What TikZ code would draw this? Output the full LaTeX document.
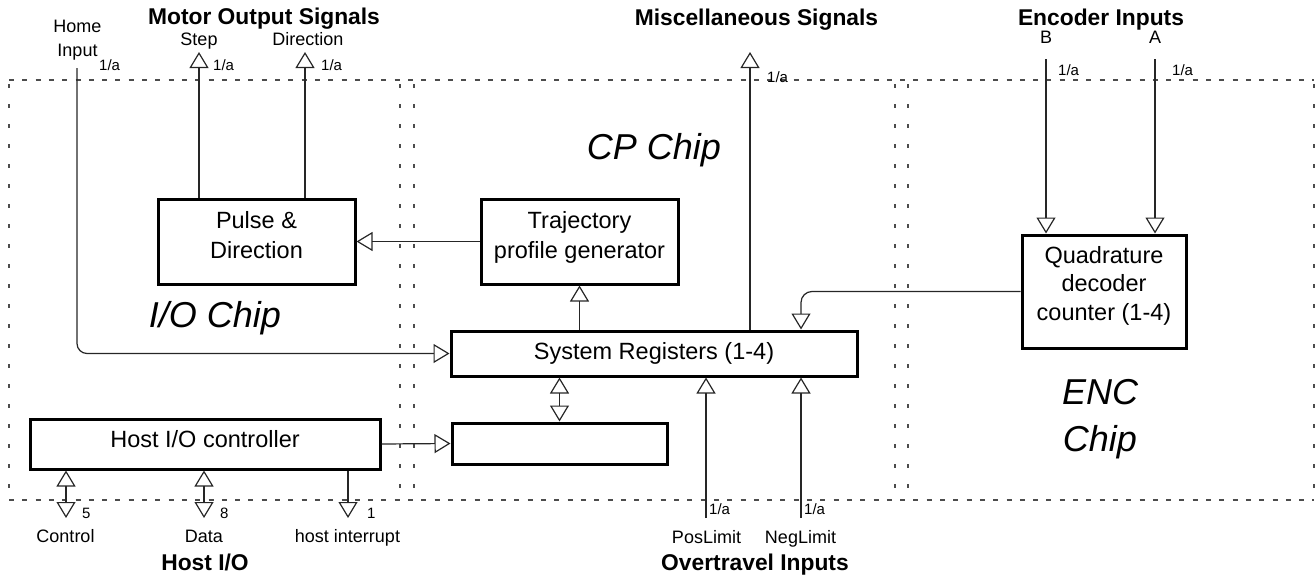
\documentclass[tikz,border=0pt]{standalone}
\usepackage{fontspec}
\setmainfont{Liberation Sans}
\usetikzlibrary{arrows.meta}
\begin{document}
\begin{tikzpicture}[x=1pt,y=-1pt,
  blk/.style={draw,line width=3pt,align=center,inner sep=0pt,font=\fontsize{23.5}{30}\selectfont},
  con/.style={line width=1.2pt,draw=black!85},
  oarr/.style={-{Triangle[open,length=16pt,width=19pt,line width=1.2pt]}},
  oarrs/.style={{Triangle[open,length=16pt,width=19pt,line width=1.2pt]}-{Triangle[open,length=16pt,width=19pt,line width=1.2pt]}},
  lbl/.style={inner sep=0pt,anchor=base,font=\fontsize{18}{24}\selectfont},
  num/.style={inner sep=0pt,anchor=base west,font=\fontsize{15}{18}\selectfont},
  ttl/.style={inner sep=0pt,anchor=base,font=\fontsize{22.8}{27}\selectfont\bfseries},
  chip/.style={inner sep=0pt,align=center,font=\fontsize{36}{47}\selectfont\itshape},
  hdash/.style={draw=black!70,line width=1.2pt,dash pattern=on 5pt off 8.3pt},
  vdot/.style={draw=black!70,line width=1.2pt,dash pattern=on 3.5pt off 16.5pt}
]
\useasboundingbox (0,0) rectangle (1315,581);

% chip regions
\draw[hdash] (9,80) -- (1314,80);
\draw[hdash] (9,500) -- (1314,500);
\foreach \xx in {9,400,414,895,908,1314} \draw[vdot] (\xx,84) -- (\xx,498);

\node[chip] (iochip) at (215,318) {I/O Chip};
\node[chip] (cpchip) at (654,150) {CP Chip};
\node[chip] (encchip) at (1100,419.3) {ENC\\Chip};

% blocks
\node[blk,minimum width=197pt,minimum height=85pt,text depth=14pt] (pulse) at (256.5,241.5) {Pulse \&\\Direction};
\node[blk,minimum width=197pt,minimum height=85pt,text depth=14pt] (traj) at (579.5,241.5) {Trajectory\\profile generator};
\node[blk,minimum width=406pt,minimum height=45pt,text depth=6pt] (sysreg) at (654,353.5) {System Registers (1-4)};
\node[blk,minimum width=164pt,minimum height=113pt,text depth=17pt,font=\fontsize{23.5}{28.5}\selectfont] (quad) at (1104,291.5) {Quadrature\\decoder\\counter (1-4)};
\node[blk,minimum width=350pt,minimum height=50pt,text depth=11pt] (host) at (205,444) {Host I/O controller};
\node[blk,minimum width=215pt,minimum height=41pt] (empty) at (559.5,443.5) {};

% free ends
\coordinate (homeS) at (77,68);
\coordinate (stepT) at (199,52);
\coordinate (dirT) at (305,52);
\coordinate (miscT) at (750,52);
\coordinate (encB) at (1046,59);
\coordinate (encA) at (1155,59);
\coordinate (qk) at (801,291);
\coordinate (ctlB) at (66,518);
\coordinate (dataB) at (204,518);
\coordinate (intB) at (348,518);
\coordinate (posB) at (706,518);
\coordinate (negB) at (801,518);

% connectors
\draw[con,oarr] (pulse.north -| stepT) -- (stepT);
\draw[con,oarr] (pulse.north -| dirT) -- (dirT);
\draw[con,oarr,rounded corners=10pt] (homeS) |- (sysreg.west);
\draw[con,oarr] (traj.west) -- (pulse.east);
\draw[con,oarr] (traj.south |- sysreg.north) -- (traj.south);
\draw[con,oarr] (sysreg.north -| miscT) -- (miscT);
\draw[con,oarr,rounded corners=11pt] (quad.west) -| (sysreg.north -| qk);
\draw[con,oarr] (encB) -- (quad.north -| encB);
\draw[con,oarr] (encA) -- (quad.north -| encA);
\draw[con,oarrs] (sysreg.south -| empty.north) -- (empty.north);
\draw[con,oarr] (host.east) -- (empty.west);
\draw[con,oarrs] (host.south -| ctlB) -- (ctlB);
\draw[con,oarrs] (host.south -| dataB) -- (dataB);
\draw[con,oarr] (host.south -| intB) -- (intB);
\draw[con,oarr] (posB) -- (sysreg.south -| posB);
\draw[con,oarr] (negB) -- (sysreg.south -| negB);

% top labels
\node[ttl] (motT) at (264,24) {Motor Output Signals};
\node[ttl] (miscTl) at (756.5,25) {Miscellaneous Signals};
\node[ttl] (encTl) at (1101,25) {Encoder Inputs};
\node[inner sep=0pt,align=center,font=\fontsize{18}{24}\selectfont] (homeL) at (77.5,40.4) {Home\\Input};
\node[num] (homeN) at (99,70) {1/a};
\node[lbl] (stepL) at (199,45) {Step};
\node[num] (stepN) at (213,70) {1/a};
\node[lbl] (dirL) at (308,45) {Direction};
\node[num] (dirN) at (321,70) {1/a};
\node[num] (miscN) at (767,82) {1/a};
\node[lbl] (bL) at (1046,43) {B};
\node[num] (bN) at (1058,75) {1/a};
\node[lbl] (aL) at (1155,43) {A};
\node[num] (aN) at (1172,75) {1/a};

% bottom labels
\node[num] (ctlN) at (82,518) {5};
\node[lbl] (ctlL) at (65.5,542) {Control};
\node[num] (dataN) at (220,518) {8};
\node[lbl] (dataL) at (204,542) {Data};
\node[num] (intN) at (367,518) {1};
\node[lbl] (intL) at (347.5,542) {host interrupt};
\node[ttl] (hostT) at (205,570) {Host I/O};
\node[num] (posN) at (709,514) {1/a};
\node[lbl] (posL) at (706.5,543) {PosLimit};
\node[num] (negN) at (804,514) {1/a};
\node[lbl] (negL) at (800.5,543) {NegLimit};
\node[ttl] (overT) at (755,570) {Overtravel Inputs};
\end{tikzpicture}
\end{document}
